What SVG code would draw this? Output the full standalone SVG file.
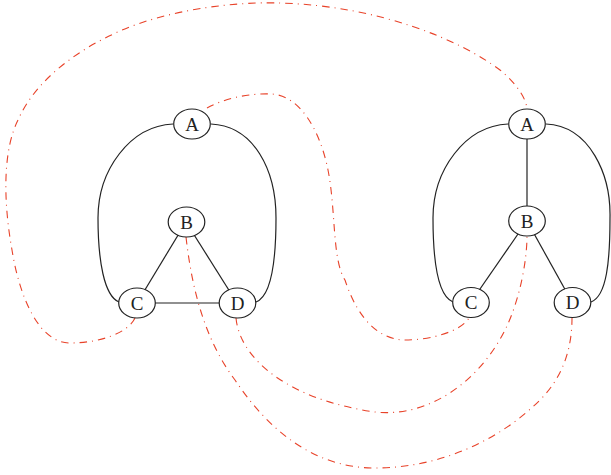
<svg xmlns="http://www.w3.org/2000/svg" width="611" height="475" viewBox="0 0 611 475">
<style>
.edge{fill:none;stroke:#222;stroke-width:1.2}
.map{fill:none;stroke:#e8432a;stroke-width:1.1;stroke-dasharray:7.5 5 1 5}
.node ellipse{fill:#fff;stroke:#222;stroke-width:1.2}
.node text{font-family:"Liberation Serif","Times New Roman",serif;font-size:19px;fill:#222;text-anchor:middle;dominant-baseline:central}
</style>
<rect width="611" height="475" fill="#fff"/>
<g id="connectors">
<path class="edge" d="M173,124 C130,126 98,170 98,218 C98,260 104,296 119,302"/>
<path class="edge" d="M211,124 C254,126 276,170 276,218 C276,260 272,296 256,302"/>
<line class="edge" x1="186" y1="222" x2="137" y2="303"/>
<line class="edge" x1="186" y1="222" x2="237" y2="303"/>
<line class="edge" x1="137" y1="303" x2="237" y2="303"/>
<path class="edge" d="M508,124 C465,126 433,170 433,218 C433,260 438,296 453,302"/>
<path class="edge" d="M546,124 C590,126 611,175 610,218 C610,260 607,296 591,302"/>
<line class="edge" x1="527" y1="125" x2="527" y2="221"/>
<line class="edge" x1="527" y1="221" x2="471" y2="302"/>
<line class="edge" x1="527" y1="221" x2="572" y2="302"/>
<path class="map" d="M135,318 C128,333 100,343 70,343 C40,343 20,300 12,250 C3,200 3,150 18,120 C40,70 100,35 150,20 C200,5 250,2 280,3 C380,6 460,40 500,70 C518,85 527,100 527,110"/>
<path class="map" d="M207,108 C225,98 250,93 272,94 C300,96 320,130 328,170 C336,210 332,260 345,280 C358,320 380,340 405,340 C430,340 460,332 469,318"/>
<path class="map" d="M186,237 C192,290 205,340 235,380 C265,425 310,468 375,468 C440,468 500,440 540,400 C565,375 572,345 572,318"/>
<path class="map" d="M236,318 C240,360 290,400 375,412 C430,418 480,380 505,330 C520,300 527,260 527,236"/>
</g>
<g id="L-A" class="node"><ellipse cx="192" cy="124" rx="18.3" ry="15"/><text x="192" y="124">A</text></g>
<g id="L-B" class="node"><ellipse cx="186.5" cy="222" rx="18.3" ry="15"/><text x="186.5" y="222">B</text></g>
<g id="L-C" class="node"><ellipse cx="137" cy="303" rx="18.3" ry="15"/><text x="137" y="303">C</text></g>
<g id="L-D" class="node"><ellipse cx="237.5" cy="303" rx="18.3" ry="15"/><text x="237.5" y="303">D</text></g>
<g id="R-A" class="node"><ellipse cx="527" cy="124" rx="18.3" ry="15"/><text x="527" y="124">A</text></g>
<g id="R-B" class="node"><ellipse cx="527" cy="221" rx="18.3" ry="15"/><text x="527" y="221">B</text></g>
<g id="R-C" class="node"><ellipse cx="471" cy="302.5" rx="18.3" ry="15"/><text x="471" y="302.5">C</text></g>
<g id="R-D" class="node"><ellipse cx="572.5" cy="302.5" rx="18.3" ry="15"/><text x="572.5" y="302.5">D</text></g>
</svg>
